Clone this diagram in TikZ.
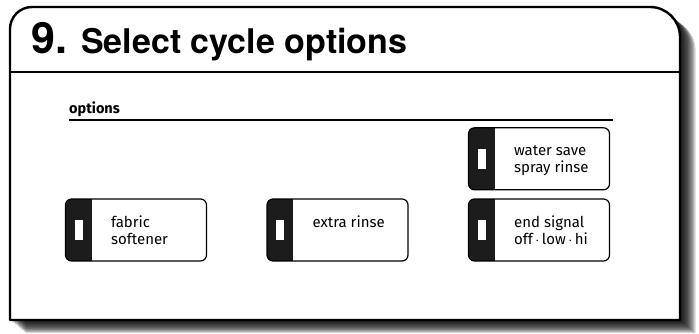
\documentclass[tikz,border=0pt]{standalone}
\usepackage{fontspec}
\usepackage{tikz}
\usetikzlibrary{positioning}
\newfontfamily\headfont{TeX Gyre Heros}
\newfontfamily\keyfont{Fira Sans}
\definecolor{keydark}{RGB}{28,28,28}
\newcommand\panelpath{(10,14) -- (10,305) arc[start angle=180, end angle=90, radius=22pt] -- (650,327) arc[start angle=90, end angle=0, radius=30pt] -- (680,14) -- cycle}
\tikzstyle{optkey} = [draw, line width=1.2pt, rounded corners=6pt, fill=white,
  minimum width=141pt, minimum height=62pt, inner sep=0pt,
  path picture={
    \fill[keydark, sharp corners] (path picture bounding box.south west) rectangle ([xshift=26pt]path picture bounding box.north west);
    \fill[white, sharp corners] ([xshift=9pt,yshift=-10pt]path picture bounding box.west) rectangle ([xshift=17pt,yshift=10pt]path picture bounding box.west);
  }]
\tikzstyle{keytext} = [anchor=north west, inner sep=0pt, align=left, font=\keyfont\fontsize{15}{16}\selectfont]

\begin{document}
\begin{tikzpicture}[x=1pt, y=1pt]
\useasboundingbox (0,0) rectangle (699,334);

% Panel with shadow
\foreach \i in {1,...,12}
  \fill[black, opacity=0.16, shift={(\i*1.3pt,-\i*1.1pt)}] \panelpath;
\filldraw[fill=white, line width=2.4pt, line join=round] \panelpath;
\draw[line width=2pt] (10,262) -- (680,262);

% Heading
\node[anchor=base west, inner sep=0pt, font=\headfont\bfseries\fontsize{43}{43}\selectfont] (stepnum) at (31,280) {9.};
\node[anchor=base west, inner sep=0pt, font=\headfont\bfseries\fontsize{34}{34}\selectfont] (title) at (81,280) {Select cycle options};

% Options rule
\node[anchor=base west, inner sep=0pt, font=\keyfont\bfseries\fontsize{14.5}{15}\selectfont] (opts) at (69,220) {options};
\coordinate (rule-end) at (613,213.5);
\draw[line width=2pt] (opts.west |- rule-end) -- (rule-end);

% Keys
\node[optkey] (fabric) at (136,104) {};
\node[optkey] (extra) at (337.5,104) {};
\node[optkey] (endsig) at (539,104) {};
\node[optkey, above=8pt of endsig] (water) {};

\node[keytext] (fabric-txt) at ([xshift=46pt,yshift=-16.8pt]fabric.north west) {\strut fabric\\softener};
\node[keytext] (extra-txt) at ([xshift=46pt,yshift=-16.8pt]extra.north west) {\strut extra rinse};
\node[keytext] (water-txt) at ([xshift=46pt,yshift=-16.8pt]water.north west) {\strut water save\\spray rinse};
\node[keytext] (endsig-txt) at ([xshift=46pt,yshift=-16.8pt]endsig.north west) {\strut end signal\\off\,$\cdot$\,low\,$\cdot$\,hi};
\end{tikzpicture}
\end{document}
